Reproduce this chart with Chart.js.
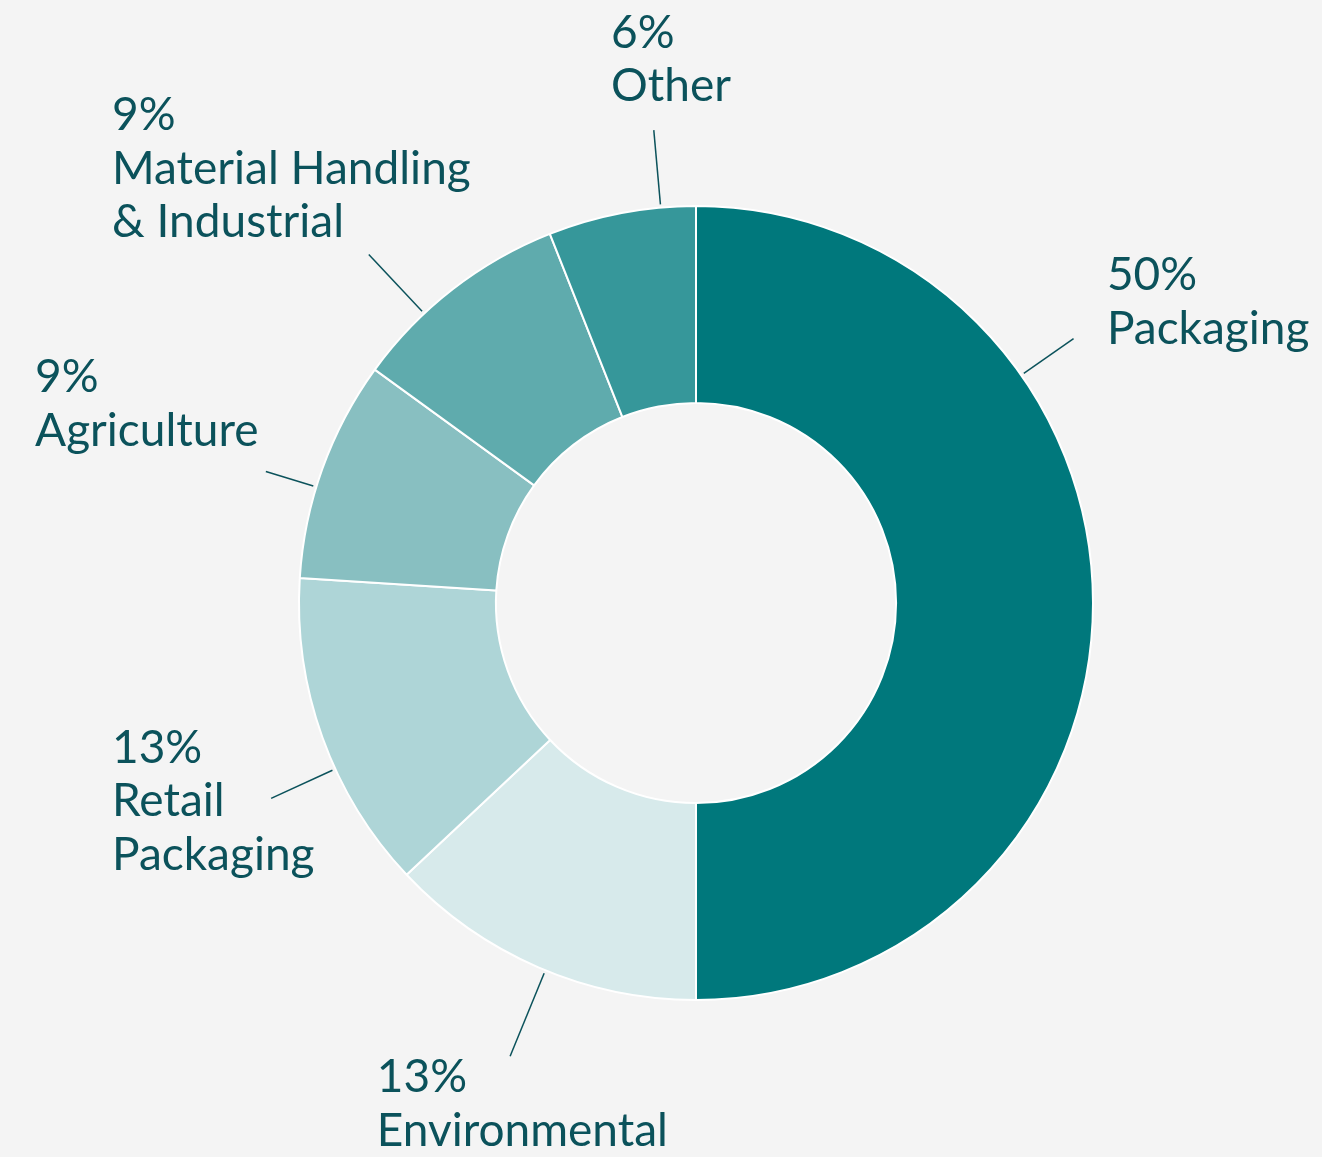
<!DOCTYPE html>
<html>
<head>
<meta charset="utf-8">
<script src="https://cdn.jsdelivr.net/npm/chart.js@4.4.1/dist/chart.umd.min.js"></script>
<style>
  html, body { margin: 0; padding: 0; background: #F4F4F4; }
  #wrap { width: 1322px; height: 1157px; position: relative; }
</style>
</head>
<body>
<div id="wrap"><canvas id="c"></canvas></div>
<script>
// ---- data ----
const categories = [
  ["Packaging"],
  ["Environmental"],
  ["Retail", "Packaging"],
  ["Agriculture"],
  ["Material Handling", "& Industrial"],
  ["Other"]
];
const shares = [50, 13, 13, 9, 9, 6];
const sliceColors = ["#00787C", "#D7EAEB", "#AED5D7", "#88BFC1", "#5FABAD", "#36979A"];

// ---- label layout (relative to centre, in units of outer radius) ----
const labelLayout = [
  { angle: 55.0,  rEnd: 1.161, tx: 1.035,  ty: -0.788 },
  { angle: 202.3, rEnd: 1.234, tx: -0.804, ty: 1.232 },
  { angle: 245.3, rEnd: 1.178, tx: -1.471, ty: 0.403 },
  { angle: 287.0, rEnd: 1.133, tx: -1.665, ty: -0.531 },
  { angle: 316.8, rEnd: 1.204, tx: -1.471, ty: -1.191 },
  { angle: 354.9, rEnd: 1.196, tx: -0.214, ty: -1.398 }
];
const textColor = "#0B525B";
const fontSize = 46;
const lineHeight = 53.5;

const labelPlugin = {
  id: "outerLabels",
  afterDatasetsDraw(chart) {
    const ctx = chart.ctx;
    const meta = chart.getDatasetMeta(0);
    const arc0 = meta.data[0];
    const cx = arc0.x, cy = arc0.y, R = arc0.outerRadius;
    const total = shares.reduce((a, b) => a + b, 0);
    ctx.save();
    ctx.strokeStyle = textColor;
    ctx.fillStyle = textColor;
    ctx.lineWidth = 1.5;
    ctx.font = fontSize + "px Lato, 'Open Sans', sans-serif";
    ctx.textBaseline = "alphabetic";
    ctx.textAlign = "left";
    labelLayout.forEach((L, i) => {
      const a = (L.angle - 90) * Math.PI / 180;
      const r0 = R * 1.008, r1 = R * L.rEnd;
      ctx.beginPath();
      ctx.moveTo(cx + Math.cos(a) * r0, cy + Math.sin(a) * r0);
      ctx.lineTo(cx + Math.cos(a) * r1, cy + Math.sin(a) * r1);
      ctx.stroke();
      const lines = [Math.round(shares[i] / total * 100) + "%"].concat(categories[i]);
      const x = cx + L.tx * R, y = cy + L.ty * R;
      lines.forEach((t, k) => ctx.fillText(t, x, y + k * lineHeight));
    });
    ctx.restore();
  }
};

new Chart(document.getElementById("c"), {
  type: "doughnut",
  data: {
    labels: categories.map(c => c.join(" ")),
    datasets: [{
      data: shares,
      backgroundColor: sliceColors,
      borderColor: "#FFFFFF",
      borderWidth: 2,
      hoverOffset: 0
    }]
  },
  options: {
    responsive: true,
    maintainAspectRatio: false,
    animation: false,
    radius: 397,
    cutout: "50.4%",
    layout: { padding: { left: 170, right: 100, top: 149, bottom: 100 } },
    plugins: { legend: { display: false }, tooltip: { enabled: false } },
    events: []
  },
  plugins: [labelPlugin]
});
</script>
</body>
</html>
